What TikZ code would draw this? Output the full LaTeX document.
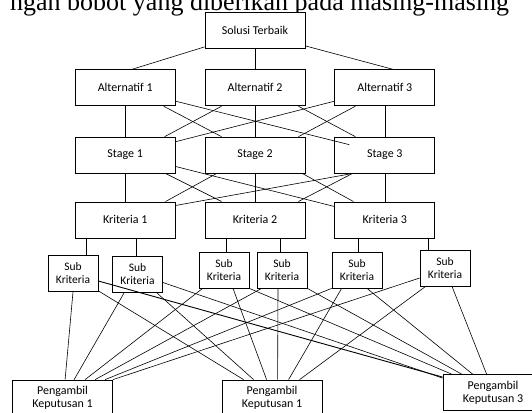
\documentclass[tikz,border=0pt]{standalone}
\usepackage{fontspec}
\setmainfont{Carlito}
\newfontfamily\bodyserif{Liberation Serif}
\usetikzlibrary{positioning}
\usetikzlibrary{calc}

\begin{document}
\begin{tikzpicture}[
    x=1pt, y=-1pt,
    block/.style={rectangle, draw=black, fill=white, line width=0.8pt, minimum width=100pt, minimum height=36pt, inner sep=0pt, font=\fontsize{12}{13}\selectfont},
    subblock/.style={block, minimum width=50pt, align=center, font=\fontsize{11.5}{13}\selectfont},
    deciderblock/.style={block, align=center},
    link/.style={line width=0.6pt},
]
    \useasboundingbox (0,0) rectangle (532,412);

    \node[font=\bodyserif\fontsize{26}{26}\selectfont, anchor=base west, inner sep=0pt] (HEAD) at (10,11) {ngan bobot yang diberikan pada masing-masing};

    \node[block] (SOL) at (255,30.5) {Solusi Terbaik};

    \node[block] (A2) [below=20.5pt of SOL] {Alternatif 2};
    \node[block] (A1) [left=29pt of A2] {Alternatif 1};
    \node[block] (A3) [right=29pt of A2] {Alternatif 3};

    \node[block] (ST2) [below=30.5pt of A2] {Stage 2};
    \node[block] (ST1) [left=29pt of ST2] {Stage 1};
    \node[block] (ST3) [right=29pt of ST2] {Stage 3};

    \node[block] (K2) [below=28pt of ST2] {Kriteria 2};
    \node[block] (K1) [left=29pt of K2] {Kriteria 1};
    \node[block] (K3) [right=29pt of K2] {Kriteria 3};

    \node[subblock] (S1) at (73,273.5) {Sub\\Kriteria};
    \node[subblock] (S2) at (137.5,274.5) {Sub\\Kriteria};
    \node[subblock] (S3) at (224,270) {Sub\\Kriteria};
    \node[subblock] (S4) at (282,270) {Sub\\Kriteria};
    \node[subblock] (S5) at (357,270) {Sub\\Kriteria};
    \node[subblock] (S6) at (445,268) {Sub\\Kriteria};

    \node[deciderblock] (P1) at (62.5,398) {Pengambil\\Keputusan 1};
    \node[deciderblock] (P2) at (272,398) {Pengambil\\Keputusan 1};
    \node[deciderblock] (P3) at (493,392.5) {Pengambil\\Keputusan 3};

    \draw[link] ($(SOL.south west)+(0,-2)$) -- ($(A1.north west)+(57,0)$);
    \draw[link] (SOL.south) -- (A2.north);
    \draw[link] ($(SOL.south east)+(0,-3)$) -- ($(A3.north east)+(-42,0)$);

    \draw[link] (A1.south) -- (ST1.north);
    \draw[link] ($(A1.south east)+(-12,0)$) -- ($(ST2.north west)+(17,0)$);
    \draw[link] ($(A1.south east)+(0,-5)$) -- ($(ST3.north west)+(15,8)$);
    \draw[link] ($(A2.south west)+(17,0)$) -- ($(ST1.north east)+(-11,0)$);
    \draw[link] (A2.south) -- (ST2.north);
    \draw[link] ($(A2.south east)+(-7,0)$) -- ($(ST3.north west)+(21,0)$);
    \draw[link] ($(A3.south west)+(0,-5)$) -- ($(ST1.north east)+(0,5)$);
    \draw[link] ($(A3.south west)+(21,0)$) -- ($(ST2.north east)+(-7,0)$);
    \draw[link] (A3.south) -- (ST3.north);

    \draw[link] (ST1.south) -- (K1.north);
    \draw[link] ($(ST1.south east)+(-10,0)$) -- ($(K2.north west)+(17,0)$);
    \draw[link] ($(ST1.south east)+(0,-7)$) -- ($(K3.north west)+(0,5)$);
    \draw[link] ($(ST2.south west)+(12,0)$) -- ($(K1.north east)+(-10,0)$);
    \draw[link] (ST2.south) -- (K2.north);
    \draw[link] ($(ST2.south east)+(-3,0)$) -- ($(K3.north west)+(19,0)$);
    \draw[link] ($(ST3.south west)+(18,0)$) -- ($(K1.north east)+(0,4)$);
    \draw[link] ($(ST3.south west)+(18,0)$) -- ($(K2.north east)+(-7,0)$);
    \draw[link] (ST3.south) -- (K3.north);

    \coordinate (k1a) at ($(K1.south west)+(11,0)$);
    \coordinate (k1b) at ($(K1.south west)+(61,0)$);
    \coordinate (k2a) at ($(K2.south west)+(22,0)$);
    \coordinate (k2b) at ($(K2.south west)+(76,0)$);
    \coordinate (k3a) at ($(K3.south west)+(24,0)$);
    \coordinate (k3b) at ($(K3.south west)+(94,0)$);
    \draw[link] (k1a) -- (k1a |- S1.north);
    \draw[link] (k1b) -- (k1b |- S2.north);
    \draw[link] (k2a) -- (k2a |- S3.north);
    \draw[link] (k2b) -- (k2b |- S4.north);
    \draw[link] (k3a) -- (k3a |- S5.north);
    \draw[link] (k3b) -- (k3b |- S6.north);

    \draw[link] (S1.south) -- ($(P1.north west)+(53,0)$);
    \draw[link] ($(S1.south east)+(0,-1)$) -- ($(P2.north west)+(22,0)$);
    \draw[line width=0.9pt] ($(S1.east)+(0,7.5)$) -- ($(P3.north west)+(0,3)$);

    \draw[link] ($(S2.south west)+(12,0)$) -- ($(P1.north west)+(62,0)$);
    \draw[link] ($(S2.south east)+(-6,0)$) -- ($(P2.north west)+(32,0)$);
    \draw[link] ($(S2.east)+(0,8)$) -- ($(P3.north west)+(0,4)$);

    \draw[link] ($(S3.south west)+(4,0)$) -- ($(P1.north west)+(73,0)$);
    \draw[link] ($(S3.south)+(9,0)$) -- ($(P2.north west)+(45,0)$);
    \draw[link] (S3.south east) -- ($(P3.north west)+(9,0)$);

    \draw[link] ($(S4.south west)+(5,0)$) -- ($(P1.north west)+(83,0)$);
    \draw[link] ($(S4.south)+(-4,0)$) -- ($(P2.north west)+(56,0)$);
    \draw[link] (S4.south east) -- ($(P3.north west)+(19,0)$);

    \draw[link] (S5.south west) -- ($(P1.north west)+(93,0)$);
    \draw[link] ($(S5.south west)+(10,0)$) -- ($(P2.north west)+(67,0)$);
    \draw[link] ($(S5.south)+(10,0)$) -- ($(P3.north west)+(30,0)$);

    \draw[link] ($(S6.west)+(0,10)$) -- (P1.north east);
    \draw[link] ($(S6.south west)+(6,0)$) -- ($(P2.north west)+(78,0)$);
    \draw[link] ($(S6.south)+(7,0)$) -- ($(P3.north west)+(44,0)$);
\end{tikzpicture}
\end{document}
